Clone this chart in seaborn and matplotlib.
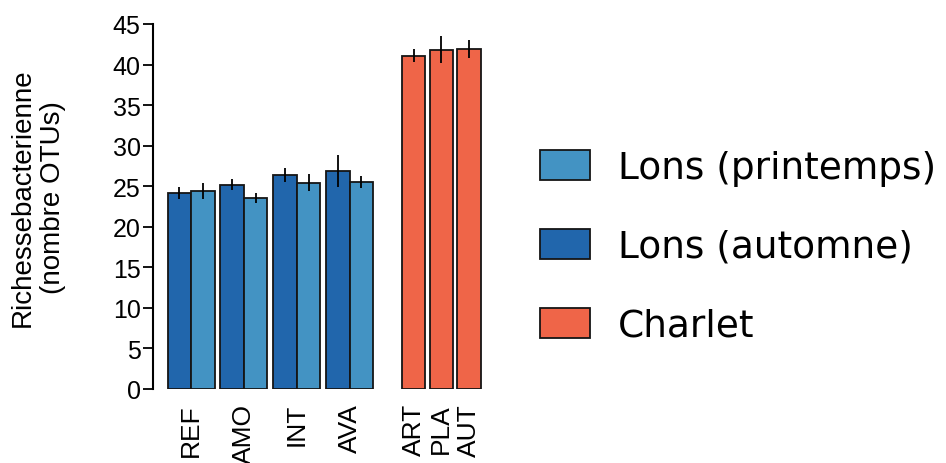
import numpy as np
import pandas as pd
import matplotlib
matplotlib.use("Agg")
import matplotlib.pyplot as plt
import matplotlib.patches as mpatches
import seaborn as sns

# ------------------------------------------
# Data
# ------------------------------------------
sites_lons = ["REF", "AMO", "INT", "AVA"]
lons_automne = [24.2, 25.2, 26.4, 26.9]
lons_automne_err = [0.75, 0.7, 0.85, 2.0]
lons_printemps = [24.4, 23.55, 25.45, 25.5]
lons_printemps_err = [0.95, 0.65, 1.0, 0.75]

sites_charlet = ["ART", "PLA", "AUT"]
charlet = [41.1, 41.85, 41.9]
charlet_err = [0.8, 1.7, 1.1]

series_names = ["Lons (printemps)", "Lons (automne)", "Charlet"]
colors = {"Lons (printemps)": "#4393c3",
          "Lons (automne)": "#2166ac",
          "Charlet": "#ef6548"}

# ------------------------------------------
# Layout: bar positions (bar width = 1 unit)
# ------------------------------------------
pair_step = 2.25
lons_centers = np.arange(len(sites_lons)) * pair_step
charlet_start = 9.47
charlet_step = 1.18
charlet_centers = charlet_start + np.arange(len(sites_charlet)) * charlet_step

rows = []
for i, s in enumerate(sites_lons):
    rows.append({"pos": lons_centers[i] - 0.5, "site": s, "serie": "Lons (automne)",
                 "value": lons_automne[i], "err": lons_automne_err[i]})
    rows.append({"pos": lons_centers[i] + 0.5, "site": s, "serie": "Lons (printemps)",
                 "value": lons_printemps[i], "err": lons_printemps_err[i]})
for i, s in enumerate(sites_charlet):
    rows.append({"pos": charlet_centers[i], "site": s, "serie": "Charlet",
                 "value": charlet[i], "err": charlet_err[i]})
df = pd.DataFrame(rows)

# ------------------------------------------
# Plot
# ------------------------------------------
sns.set_style("white")
plt.rcParams["font.family"] = ["Liberation Sans", "DejaVu Sans"]
plt.rcParams["text.color"] = "black"
plt.rcParams["xtick.color"] = "black"
plt.rcParams["ytick.color"] = "black"
plt.rcParams["axes.labelcolor"] = "black"

fig = plt.figure(figsize=(9.46, 4.64), dpi=100)
ax = fig.add_axes([153 / 946, 74 / 464, 337 / 946, 365 / 464])

sns.barplot(data=df, x="pos", y="value", hue="serie", palette=colors,
            native_scale=True, dodge=False, width=1.0, errorbar=None,
            saturation=1, edgecolor="#151515", linewidth=1.3,
            legend=False, ax=ax)

ax.errorbar(df["pos"], df["value"], yerr=df["err"], fmt="none",
            ecolor="black", elinewidth=1.3, capsize=0)

ax.set_xlim(-1.62, 12.72)
ax.set_ylim(0, 45)
ax.set_yticks(np.arange(0, 46, 5))
ax.tick_params(axis="y", labelsize=18, length=7, width=1.3, pad=2, left=True)
ax.set_xticks(list(lons_centers) + list(charlet_centers),
              sites_lons + sites_charlet, rotation=90, va="top")
ax.tick_params(axis="x", labelsize=19, length=0, pad=10)
ax.set_xlabel("")
ax.set_ylabel("")

sns.despine(ax=ax, bottom=True)
ax.spines["left"].set_linewidth(1.5)
ax.spines["left"].set_color("black")

fig.text(38 / 946, 1 - 198 / 464, "Richessebacterienne\n(nombre OTUs)",
         rotation=90, ha="center", va="center", multialignment="center",
         fontsize=20, linespacing=1.25)

handles = [mpatches.Patch(facecolor=colors[n], edgecolor="#151515",
                          linewidth=1.3, label=n) for n in series_names]
fig.legend(handles=handles, loc="center left",
           bbox_to_anchor=(540 / 946, 1 - 248 / 464),
           frameon=False, borderpad=0, borderaxespad=0,
           handlelength=1.33, handleheight=0.85, handletextpad=0.75,
           labelspacing=1.14, labelcolor="black",
           prop={"family": "DejaVu Sans", "size": 27})

fig.savefig("out.png", dpi=100)
